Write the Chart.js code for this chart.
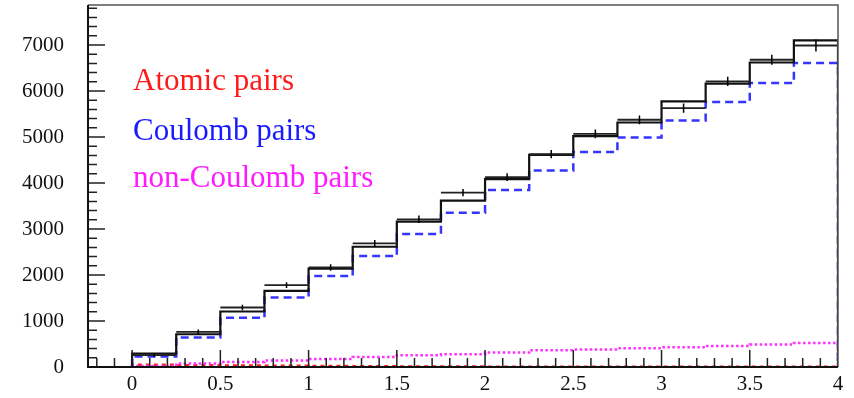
<!DOCTYPE html>
<html>
<head>
<meta charset="utf-8">
<script src="https://cdn.jsdelivr.net/npm/chart.js@4"></script>
<style>
  html, body { margin: 0; padding: 0; background: #fff; }
  #wrap { width: 854px; height: 398px; }
</style>
</head>
<body>
<div id="wrap"><canvas id="c" width="854" height="398"></canvas></div>
<script>
// --- histogram data (16 bins of 0.25) ---
const binEdges = [0, 0.25, 0.5, 0.75, 1, 1.25, 1.5, 1.75, 2, 2.25, 2.5, 2.75, 3, 3.25, 3.5, 3.75, 4];
const fitSum     = [290, 712, 1207, 1656, 2140, 2614, 3159, 3617, 4083, 4612, 5020, 5316, 5773, 6159, 6620, 7102];
const dataCounts = [260, 762, 1294, 1780, 2165, 2688, 3211, 3791, 4126, 4630, 5070, 5375, 5630, 6209, 6680, 6990];
const dataErrors = [40, 55, 60, 65, 70, 75, 80, 80, 85, 90, 95, 95, 100, 100, 110, 130];
const coulomb    = [230, 640, 1068, 1512, 1976, 2412, 2891, 3355, 3850, 4270, 4675, 4989, 5359, 5760, 6174, 6610];
const nonCoulomb = [20, 75, 109, 140, 175, 218, 255, 277, 313, 364, 379, 407, 429, 458, 488, 523];
const atomic     = [50, 40, 30, 25, 20, 15, 12, 10, 8, 8, 6, 6, 5, 5, 4, 4];

const xTickValues = [0, 0.5, 1, 1.5, 2, 2.5, 3, 3.5, 4];
const xTickLabels = ['0', '0.5', '1', '1.5', '2', '2.5', '3', '3.5', '4'];
const yTickValues = [0, 1000, 2000, 3000, 4000, 5000, 6000, 7000];
const yTickLabels = ['0', '1000', '2000', '3000', '4000', '5000', '6000', '7000'];

const legendLabels = ['Atomic pairs', 'Coulomb pairs', 'non-Coulomb pairs'];
const legendColors = ['#ff1a1a', '#1a1aff', '#ff1aff'];

function stepPoints(vals) {
    const last = binEdges.length - 1;
    const pts = [{ x: binEdges[0], y: 0 }];
    vals.forEach((v, i) => pts.push({ x: binEdges[i], y: v }));
    pts.push({ x: binEdges[last], y: vals[vals.length - 1] });
    pts.push({ x: binEdges[last], y: 0 });
    return pts;
}

// horizontal bin bars for the measured points
function binBars(vals) {
    const pts = [];
    vals.forEach((v, i) => {
        pts.push({ x: binEdges[i], y: v });
        pts.push({ x: binEdges[i + 1], y: v });
        pts.push({ x: binEdges[i + 1], y: null });
    });
    return pts;
}

function errorBars(vals, errs) {
    const pts = [];
    vals.forEach((v, i) => {
        const c = (binEdges[i] + binEdges[i + 1]) / 2;
        pts.push({ x: c, y: v - errs[i] });
        pts.push({ x: c, y: v + errs[i] });
        pts.push({ x: c, y: null });
    });
    return pts;
}

const rootFrame = {
    id: 'rootFrame',
    afterDatasetsDraw(chart) {
        const { ctx, chartArea: a, scales: { x, y } } = chart;
        ctx.save();
        // inward ticks
        ctx.strokeStyle = '#222';
        ctx.lineWidth = 1.5;
        ctx.beginPath();
        for (let k = -2; k <= 40; k++) {
            const px = x.getPixelForValue(k / 10);
            if (px < a.left + 1 || px > a.right - 1) continue;
            const len = k % 5 === 0 ? 17 : 9;
            ctx.moveTo(px, a.bottom);
            ctx.lineTo(px, a.bottom - len);
        }
        for (let v = 200; v <= 7800; v += 200) {
            const py = y.getPixelForValue(v);
            if (py < a.top + 1) continue;
            const len = v % 1000 === 0 ? 17 : 9;
            ctx.moveTo(a.left, py);
            ctx.lineTo(a.left + len, py);
        }
        ctx.stroke();
        // frame
        ctx.strokeStyle = '#555';
        ctx.lineWidth = 1.5;
        ctx.beginPath();
        ctx.moveTo(a.left, a.top);
        ctx.lineTo(a.right, a.top);
        ctx.lineTo(a.right, a.bottom);
        ctx.stroke();
        ctx.strokeStyle = '#111';
        ctx.lineWidth = 2;
        ctx.beginPath();
        ctx.moveTo(a.left, a.top);
        ctx.lineTo(a.left, a.bottom);
        ctx.lineTo(a.right, a.bottom);
        ctx.stroke();
        // legend texts
        ctx.font = '31px "Liberation Serif", "Times New Roman", serif';
        ctx.textAlign = 'left';
        ctx.textBaseline = 'alphabetic';
        const baselines = [90, 140, 187];
        legendLabels.forEach((t, i) => {
            ctx.fillStyle = legendColors[i];
            ctx.fillText(t, 133, baselines[i]);
        });
        ctx.restore();
    }
};

const common = { pointRadius: 0, tension: 0, fill: false, spanGaps: false };

new Chart(document.getElementById('c'), {
    type: 'line',
    data: {
        datasets: [
            { ...common, data: stepPoints(atomic), stepped: 'before', borderColor: '#ff2020', borderWidth: 2.5, borderDash: [4, 4], order: 5 },
            { ...common, data: stepPoints(nonCoulomb), stepped: 'before', borderColor: '#ff30ff', borderWidth: 2.5, borderDash: [2.5, 2.5], order: 4 },
            { ...common, data: stepPoints(coulomb), stepped: 'before', borderColor: '#3535ff', borderWidth: 2.5, borderDash: [8, 5], order: 3 },
            { ...common, data: stepPoints(fitSum), stepped: 'before', borderColor: '#111', borderWidth: 2.2, order: 2 },
            { ...common, data: binBars(dataCounts), borderColor: '#222', borderWidth: 1.8, order: 1 },
            { ...common, data: errorBars(dataCounts, dataErrors), borderColor: '#000', borderWidth: 1.5, order: 0 }
        ]
    },
    options: {
        responsive: false,
        animation: false,
        layout: { padding: { left: 0, right: 16, top: 5, bottom: 0 } },
        plugins: { legend: { display: false }, tooltip: { enabled: false } },
        scales: {
            x: {
                type: 'linear',
                min: -0.25,
                max: 4,
                grid: { display: false, drawTicks: false },
                border: { display: false },
                afterBuildTicks: s => { s.ticks = xTickValues.map(v => ({ value: v })); },
                afterFit: s => { s.height = 31; s.paddingLeft = 0; s.paddingRight = 0; },
                ticks: {
                    autoSkip: false,
                    maxRotation: 0,
                    padding: 5,
                    color: '#111',
                    font: { family: '"Liberation Serif", "Times New Roman", serif', size: 21 },
                    callback: v => xTickLabels[xTickValues.indexOf(v)]
                }
            },
            y: {
                min: 0,
                max: 7870,
                grid: { display: false, drawTicks: false },
                border: { display: false },
                afterBuildTicks: s => { s.ticks = yTickValues.map(v => ({ value: v })); },
                afterFit: s => { s.width = 88; s.paddingTop = 0; s.paddingBottom = 0; },
                ticks: {
                    padding: 24,
                    color: '#111',
                    font: { family: '"Liberation Serif", "Times New Roman", serif', size: 21 },
                    callback: v => yTickLabels[yTickValues.indexOf(v)]
                }
            }
        }
    },
    plugins: [rootFrame]
});
</script>
</body>
</html>
